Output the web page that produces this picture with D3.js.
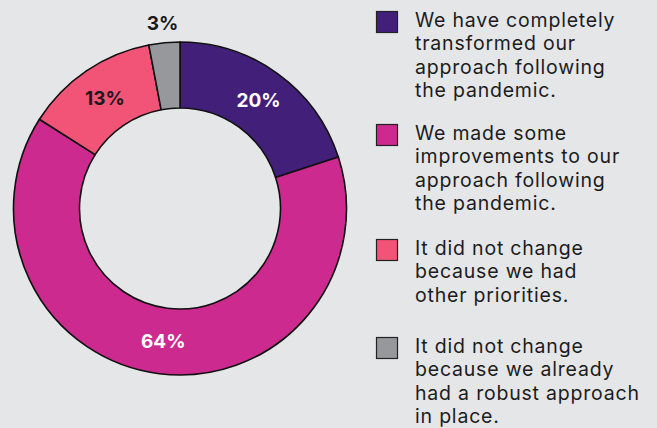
<!DOCTYPE html>
<html>
<head>
<meta charset="utf-8">
<script src="https://cdn.jsdelivr.net/npm/d3@7"></script>
<style>
  html, body { margin: 0; padding: 0; background: #e5e6e8; }
  svg { display: block; }
</style>
</head>
<body>
<svg id="chart" width="657" height="428"></svg>
<script>
// Survey responses: how the approach changed after the pandemic
const categories = [
  ["We have completely", "transformed our", "approach following", "the pandemic."],
  ["We made some", "improvements to our", "approach following", "the pandemic."],
  ["It did not change", "because we had", "other priorities."],
  ["It did not change", "because we already", "had a robust approach", "in place."]
];
const values = [20, 64, 13, 3];
const colors = ["#42207a", "#cc2a8f", "#f25478", "#97989c"];
const labelColors = ["#ffffff", "#ffffff", "#1a1a1a", "#1a1a1a"];

const svg = d3.select("#chart");
const cx = 180, cy = 208.5, rOuter = 166.5, rInner = 100.5;
const font = "Inter, 'Open Sans', sans-serif";

const pie = d3.pie().sort(null).value(d => d)(values);
const arc = d3.arc().innerRadius(rInner).outerRadius(rOuter);
const labelArc = d3.arc().innerRadius((rInner + rOuter) / 2).outerRadius((rInner + rOuter) / 2);
const outsideArc = d3.arc().innerRadius(rOuter + 20).outerRadius(rOuter + 20);

const g = svg.append("g").attr("transform", `translate(${cx},${cy})`);

g.selectAll("path.slice")
  .data(pie)
  .join("path")
  .attr("class", "slice")
  .attr("d", arc)
  .attr("fill", (d, i) => colors[i])
  .attr("stroke", "#111")
  .attr("stroke-width", 1.6)
  .attr("stroke-linejoin", "round");

g.selectAll("text.value")
  .data(pie)
  .join("text")
  .attr("class", "value")
  .attr("transform", (d, i) => {
    const p = (values[i] < 5 ? outsideArc : labelArc).centroid(d);
    return `translate(${p[0]},${p[1]})`;
  })
  .attr("text-anchor", "middle")
  .attr("dy", "0.36em")
  .attr("font-family", font)
  .attr("font-weight", 700)
  .attr("font-size", 19)
  .attr("fill", (d, i) => labelColors[i])
  .text(d => d.data + "%");

// Legend
const legendTops = [11, 124, 239, 337];
const lineH = 23.3;
const legend = svg.append("g");
categories.forEach((lines, i) => {
  const y0 = legendTops[i];
  legend.append("rect")
    .attr("x", 376.5).attr("y", y0 + 0.5)
    .attr("width", 21).attr("height", 21)
    .attr("fill", colors[i])
    .attr("stroke", "#222").attr("stroke-width", 1.2);
  const t = legend.append("text")
    .attr("font-family", font)
    .attr("font-size", 19.5)
    .attr("letter-spacing", 0.8)
    .attr("fill", "#1c1c1c");
  lines.forEach((ln, j) => {
    t.append("tspan")
      .attr("x", 415)
      .attr("y", y0 + 16 + j * lineH)
      .text(ln);
  });
});
</script>
</body>
</html>
